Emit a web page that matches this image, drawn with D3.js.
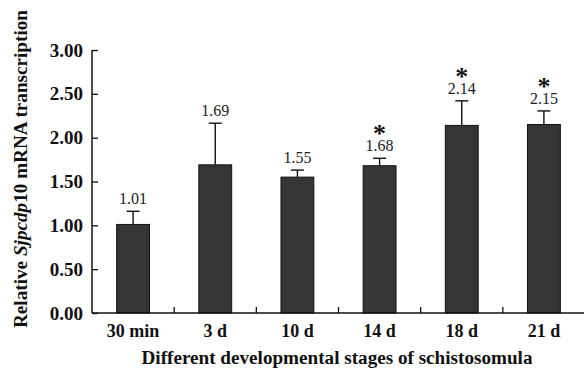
<!DOCTYPE html>
<html>
<head>
<meta charset="utf-8">
<script src="https://cdn.jsdelivr.net/npm/d3@7"></script>
<style>
  body { margin: 0; background: #fff; }
  text { font-family: "Liberation Serif", "Times New Roman", serif; }
</style>
</head>
<body>
<svg id="chart" width="584" height="370"></svg>
<script>
// data
const stages = ["30 min", "3 d", "10 d", "14 d", "18 d", "21 d"];
const means = [1.01, 1.69, 1.55, 1.68, 2.14, 2.15];
const errors = [0.15, 0.475, 0.08, 0.085, 0.28, 0.155];
const significant = [false, false, false, true, true, true];
const yTicks = [0, 0.5, 1, 1.5, 2, 2.5, 3];

const svg = d3.select("#chart");
const plotLeft = 92, plotRight = 585, plotTop = 50, plotBottom = 313;

const x = d3.scaleBand().domain(stages).range([plotLeft, plotRight]).padding(0);
const y = d3.scaleLinear().domain([0, 3]).range([plotBottom, plotTop]);
const barW = x.bandwidth() * 0.4;
const cx = (d) => x(d) + x.bandwidth() / 2;
const labelY = (i) => y(means[i] + errors[i]) - 7;

// bars
svg.selectAll(".bar")
  .data(stages)
  .enter()
  .append("rect")
  .attr("class", "bar")
  .attr("x", (d) => cx(d) - barW / 2)
  .attr("y", (d, i) => y(means[i]))
  .attr("width", barW)
  .attr("height", (d, i) => plotBottom - y(means[i]))
  .attr("fill", "#353535")
  .attr("stroke", "#111")
  .attr("stroke-width", 1);

// error bars (upper only)
const err = svg.selectAll(".err").data(stages).enter().append("g").attr("class", "err")
  .attr("stroke", "#111").attr("stroke-width", 1.4);
err.append("line")
  .attr("x1", (d) => cx(d)).attr("x2", (d) => cx(d))
  .attr("y1", (d, i) => y(means[i]))
  .attr("y2", (d, i) => y(means[i] + errors[i]));
err.append("line")
  .attr("x1", (d) => cx(d) - 6.5).attr("x2", (d) => cx(d) + 6.5)
  .attr("y1", (d, i) => y(means[i] + errors[i]))
  .attr("y2", (d, i) => y(means[i] + errors[i]));

// value labels
svg.selectAll(".val")
  .data(stages)
  .enter()
  .append("text")
  .attr("class", "val")
  .attr("x", (d) => cx(d))
  .attr("y", (d, i) => labelY(i))
  .attr("text-anchor", "middle")
  .attr("font-size", 16)
  .attr("fill", "#222")
  .text((d, i) => means[i].toFixed(2));

// asterisks
svg.selectAll(".star")
  .data(stages.filter((d, i) => significant[i]))
  .enter()
  .append("text")
  .attr("class", "star")
  .attr("x", (d) => cx(d))
  .attr("y", (d) => labelY(stages.indexOf(d)) - 9)
  .attr("text-anchor", "middle")
  .attr("font-size", 26)
  .attr("font-weight", "bold")
  .attr("fill", "#111")
  .text("*");

// y axis
const yAxis = d3.axisLeft(y).tickValues(yTicks).tickSize(-6).tickPadding(9)
  .tickFormat(d3.format(".2f"));
const gy = svg.append("g").attr("transform", `translate(${plotLeft},0)`).call(yAxis);
gy.select(".domain").attr("stroke", "#111").attr("stroke-width", 1.5).attr("d", `M0,${plotTop}V${plotBottom}`);
gy.selectAll(".tick line").attr("stroke", "#111").attr("stroke-width", 1.3);
gy.selectAll(".tick text")
  .attr("font-family", "Liberation Serif, serif")
  .attr("font-size", 19)
  .attr("font-weight", "bold")
  .attr("fill", "#111")
  .attr("dy", "0.32em");

// x axis: baseline and category dividers
svg.append("line")
  .attr("x1", plotLeft).attr("x2", 584).attr("y1", plotBottom).attr("y2", plotBottom)
  .attr("stroke", "#111").attr("stroke-width", 1.5);
svg.selectAll(".xtick")
  .data(stages.slice(1))
  .enter()
  .append("line")
  .attr("class", "xtick")
  .attr("x1", (d) => x(d)).attr("x2", (d) => x(d))
  .attr("y1", plotBottom).attr("y2", plotBottom - 6)
  .attr("stroke", "#111").attr("stroke-width", 1.3);
svg.selectAll(".xlab")
  .data(stages)
  .enter()
  .append("text")
  .attr("class", "xlab")
  .attr("x", (d) => cx(d))
  .attr("y", 337)
  .attr("text-anchor", "middle")
  .attr("font-size", 18)
  .attr("font-weight", "bold")
  .attr("fill", "#111")
  .text((d) => d);

// axis titles
svg.append("text")
  .attr("x", 337).attr("y", 364)
  .attr("text-anchor", "middle")
  .attr("font-size", 18)
  .attr("font-weight", "bold")
  .attr("fill", "#111")
  .attr("textLength", 391)
  .attr("lengthAdjust", "spacingAndGlyphs")
  .text("Different developmental stages of schistosomula");

const yt = svg.append("text")
  .attr("transform", "translate(27,169) rotate(-90)")
  .attr("text-anchor", "middle")
  .attr("font-size", 19)
  .attr("font-weight", "bold")
  .attr("fill", "#111")
  .attr("textLength", 318)
  .attr("lengthAdjust", "spacingAndGlyphs");
yt.append("tspan").text("Relative ");
yt.append("tspan").attr("font-style", "italic").text("Sjpcdp");
yt.append("tspan").text("10 mRNA transcription");
</script>
</body>
</html>
